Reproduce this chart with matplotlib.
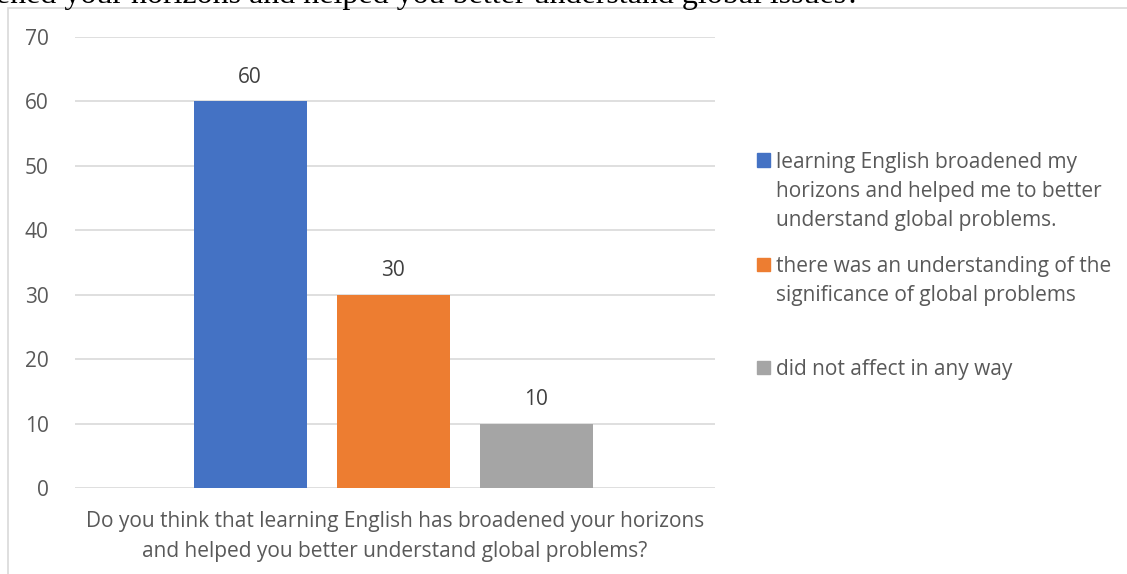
import matplotlib.pyplot as plt
from matplotlib.patches import Rectangle

# data
categories = [
    "learning English broadened my\nhorizons and helped me to better\nunderstand global problems.",
    "there was an understanding of the\nsignificance of global problems",
    "did not affect in any way",
]
values = [60, 30, 10]
colors = ["#4472C4", "#ED7D31", "#A5A5A5"]
yticks = [0, 10, 20, 30, 40, 50, 60, 70]
xlabel = ("Do you think that learning English has broadened your horizons\n"
          "and helped you better understand global problems?")
cut_title = "roadened your horizons and helped you better understand global issues?"

W, H = 1127, 574
text_color = "#595959"
fs = 15
plt.rcParams["font.family"] = ["Open Sans", "DejaVu Sans"]

fig = plt.figure(figsize=(W / 100, H / 100), dpi=100)

# chart frame (extends past the right and bottom edges)
fig.patches.append(Rectangle((8 / W, -0.1), 1.2, 1 - 8 / H + 0.1,
                             transform=fig.transFigure, fill=False,
                             edgecolor="#D9D9D9", linewidth=1.2))

# cut-off document text above the chart
fig.text(-61 / W, 1 - 3 / H, cut_title, family="Liberation Serif", fontsize=23,
         color="black", va="baseline", ha="left")

ax = fig.add_axes([75 / W, 1 - 488 / H, (715 - 75) / W, (488 - 37) / H])
x = [0, 1, 2]
bars = ax.bar(x, values, width=0.79, color=colors)
ax.set_xlim(-1.224, 3.25)
ax.set_ylim(0, 70)
ax.set_yticks(yticks)
ax.grid(axis="y", color="#D9D9D9", linewidth=1.2)
ax.set_axisbelow(True)
for s in ["top", "right", "left", "bottom"]:
    ax.spines[s].set_visible(False)
ax.tick_params(axis="y", length=0, pad=19, labelsize=fs, labelcolor=text_color)
ax.set_xticks([])

for b, v in zip(bars, values):
    ax.annotate(str(v), (b.get_x() + b.get_width() / 2, v), xytext=(0, 10),
                textcoords="offset points", ha="center", va="bottom",
                fontsize=fs, color="#404040")

fig.text(395 / W, 1 - 511 / H, xlabel, ha="center", va="top", fontsize=fs,
         color=text_color, linespacing=1.55)

# legend drawn by hand
leg_y = [160, 264, 367]
for y, c, lab in zip(leg_y, colors, categories):
    fig.patches.append(Rectangle((757 / W, 1 - (y + 6.5) / H), 13 / W, 13 / H,
                                 transform=fig.transFigure, color=c))
    fig.text(776 / W, 1 - (y - 8) / H, lab, ha="left", va="top", fontsize=fs,
             color=text_color, linespacing=1.5)

fig.savefig("out.png", dpi=100)
